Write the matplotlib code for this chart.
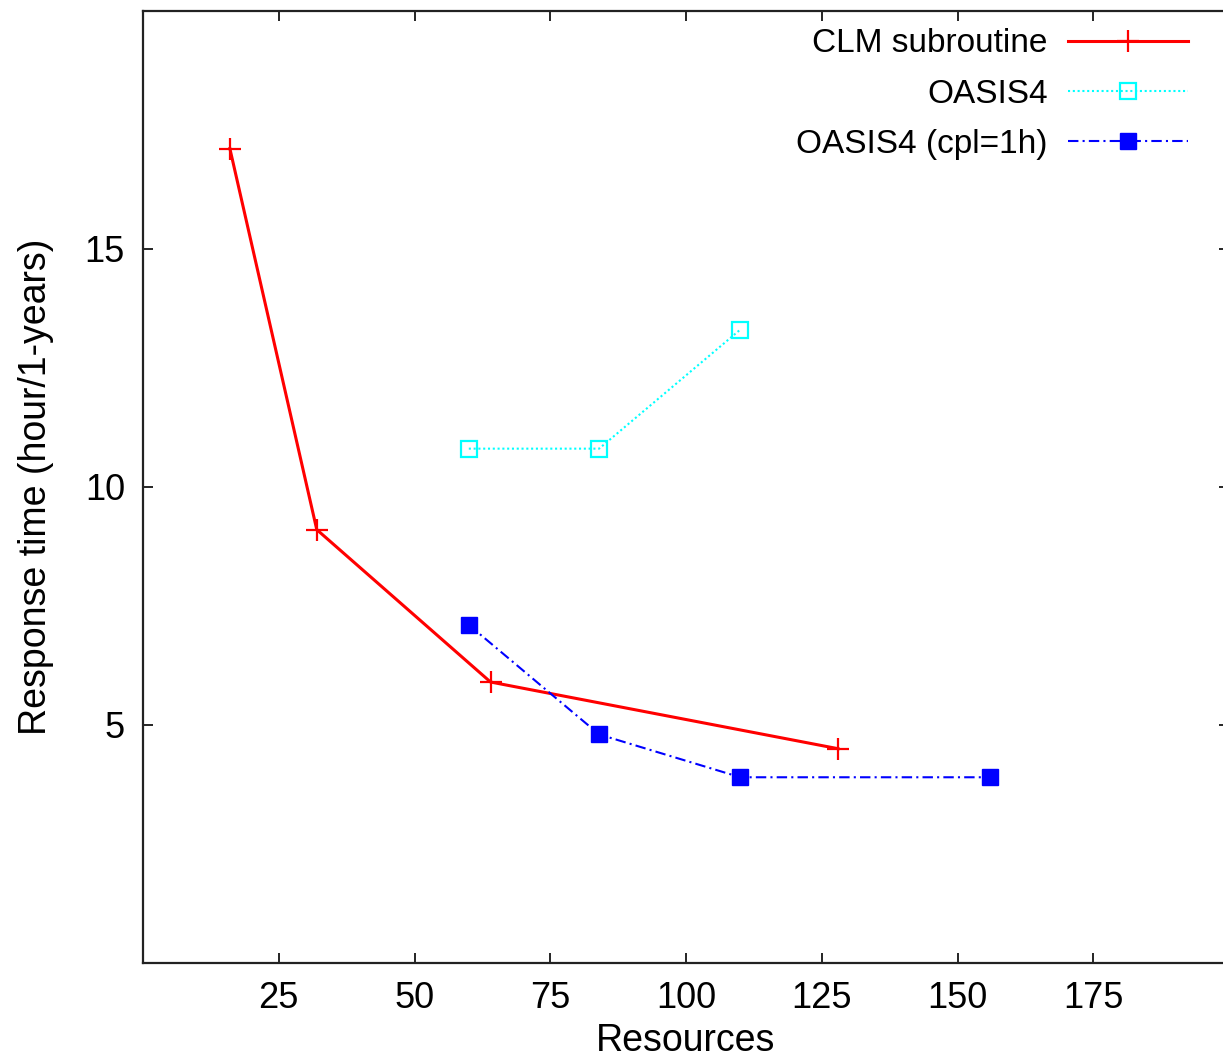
import matplotlib
matplotlib.use("Agg")
import matplotlib.pyplot as plt

# data
clm_x = [16, 32, 64, 128]
clm_y = [17.1, 9.1, 5.9, 4.5]

oasis_x = [60, 84, 110]
oasis_y = [10.8, 10.8, 13.3]

cpl_x = [60, 84, 110, 156]
cpl_y = [7.1, 4.8, 3.9, 3.9]

xticks = [25, 50, 75, 100, 125, 150, 175]
yticks = [5, 10, 15]

plt.rcParams['font.family'] = ['Liberation Sans', 'DejaVu Sans']

fig = plt.figure(figsize=(12.23, 10.61), dpi=100)
# right edge of the frame sits just past the picture, as in the original
ax = fig.add_axes([143 / 1223, 98 / 1061, 1086 / 1223, 952.5 / 1061])

ax.plot(clm_x, clm_y, color='red', lw=2.2, marker='+', ms=16, mew=1.6,
        label='CLM subroutine')
ax.plot(oasis_x, oasis_y, color='cyan', lw=1.5, ls=(0, (1, 1.3)), marker='s',
        ms=12, mfc='none', mec='cyan', mew=1.6, label='OASIS4')
ax.plot(cpl_x, cpl_y, color='blue', lw=1.5, ls=(0, (5, 2, 1, 2)), marker='s',
        ms=12, mfc='blue', mec='blue', label='OASIS4 (cpl=1h)')

ax.set_xlim(0, 200)
ax.set_ylim(0, 20)
ax.set_xticks(xticks)
ax.set_yticks(yticks)

ax.tick_params(direction='in', length=7, width=1.2, labelsize=26,
               top=True, right=True, pad=13, colors='black')
for s in ax.spines.values():
    s.set_linewidth(1.6)
    s.set_color('#222222')

ax.set_xlabel('Resources', fontsize=27, labelpad=5)
ax.set_ylabel('Response time (hour/1-years)', fontsize=27, labelpad=22)

leg = ax.legend(loc='upper right', bbox_to_anchor=(1211 / 1223, 1056 / 1061),
                bbox_transform=fig.transFigure, frameon=False, markerfirst=False,
                fontsize=24, handlelength=3.6, handletextpad=0.6,
                labelspacing=0.58, borderaxespad=0.3)

fig.savefig('out.png', dpi=100)
